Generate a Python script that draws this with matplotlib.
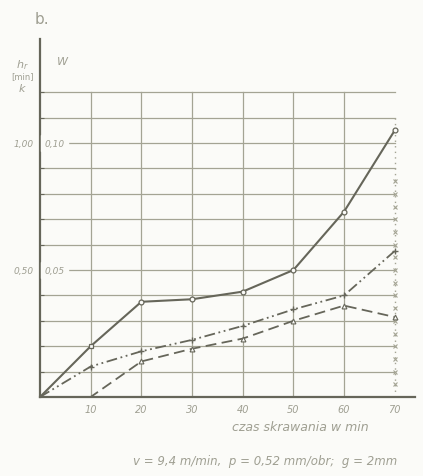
import matplotlib
matplotlib.use("Agg")
import matplotlib.pyplot as plt

# czas skrawania [min]
czas = [0, 10, 20, 30, 40, 50, 60, 70]
# hr/k, solid line with circles
hr_k = [0.0, 0.20, 0.375, 0.385, 0.415, 0.50, 0.73, 1.05]
# dash-dot-dot line with crosses
krzywa_2 = [0.0, 0.12, 0.18, 0.225, 0.28, 0.345, 0.40, 0.575]
# dashed line with triangles
krzywa_3 = [0.0, 0.0, 0.14, 0.19, 0.23, 0.30, 0.36, 0.315]
# column of x marks at t = 70
kolumna_x = [0.05, 0.10, 0.15, 0.20, 0.25, 0.30, 0.35, 0.40, 0.45, 0.50,
             0.55, 0.60, 0.65, 0.70, 0.75, 0.80, 0.85]
x_ticks = [10, 20, 30, 40, 50, 60, 70]
x_labels = ["10", "20", "30", "40", "50", "60", "70"]

LINE = "#66665a"
GRID = "#a4a494"
TEXT = "#9f9f92"
BG = "#fbfbf8"

fig = plt.figure(figsize=(4.23, 4.77), dpi=100, facecolor=BG)
ax = fig.add_axes([40 / 423, 79 / 477, 375 / 423, 358 / 477])
ax.set_facecolor(BG)
ax.set_xlim(0, 74)
ax.set_ylim(0, 1.41)

# grid
for k in range(1, 13):
    ax.plot([0, 70], [k * 0.1, k * 0.1], color=GRID, lw=0.9, zorder=1)
for t in x_ticks[:-1]:
    ax.plot([t, t], [0, 1.2], color=GRID, lw=0.9, zorder=1)
ax.plot([70, 70], [0, 1.1], color=GRID, lw=1.0, ls=(0, (1, 3)), zorder=1)
ax.plot([70] * len(kolumna_x), kolumna_x, ls="none", marker="x",
        ms=3, mew=0.8, color=GRID, zorder=2)

# curves
ax.plot(czas, hr_k, color=LINE, lw=1.5, marker="o", ms=3.5, mfc=BG,
        mew=0.9, zorder=4, markevery=[2, 3, 4, 5, 6, 7])
ax.plot(czas[1], hr_k[1], marker="s", ms=3.5, mfc=BG, mec=LINE, mew=0.9,
        zorder=5)
ax.plot(czas, krzywa_2, color=LINE, lw=1.3, ls=(0, (6, 2, 1, 2, 1, 2)),
        marker="+", ms=5, mew=1.0, zorder=3, markevery=[1, 2, 3, 4, 5, 6, 7])
ax.plot(czas, krzywa_3, color=LINE, lw=1.3, ls=(0, (6, 3)),
        marker="^", ms=3.5, mfc=BG, mew=0.8, zorder=3, clip_on=False,
        markevery=[2, 3, 4, 5, 6, 7])

for s in ["top", "right"]:
    ax.spines[s].set_visible(False)
ax.spines["left"].set_color(LINE)
ax.spines["left"].set_linewidth(1.6)
ax.spines["bottom"].set_color(LINE)
ax.spines["bottom"].set_linewidth(1.6)

ax.set_xticks(x_ticks)
ax.set_xticklabels(x_labels, fontsize=7, style="italic", color=TEXT)
ax.tick_params(axis="x", length=0, pad=5)
ax.set_yticks([k * 0.1 for k in range(1, 13)])
ax.set_yticklabels([])
ax.tick_params(axis="y", length=3, color=LINE, direction="in")

tk = dict(fontsize=6.5, style="italic", color=TEXT, va="center")
ax.text(-1.2, 1.0, "1,00", ha="right", **tk)
ax.text(0.9, 1.0, "0,10", ha="left", backgroundcolor=BG, **tk)
ax.text(-1.2, 0.5, "0,50", ha="right", **tk)
ax.text(0.9, 0.5, "0,05", ha="left", backgroundcolor=BG, **tk)

fig.text(35 / 423, 1 - 20 / 477, "b.", fontsize=11, color=TEXT, ha="left", va="center")
fig.text(57 / 423, 1 - 62 / 477, "W", fontsize=8, style="italic", color=TEXT,
         ha="left", va="center")
fig.text(22 / 423, 1 - 65 / 477, "h$_r$", fontsize=8, style="italic", color=TEXT,
         ha="center", va="center")
fig.text(22 / 423, 1 - 77 / 477, "[min]", fontsize=6, color=TEXT,
         ha="center", va="center")
fig.text(22 / 423, 1 - 89 / 477, "k", fontsize=8, style="italic", color=TEXT,
         ha="center", va="center")

fig.text(300 / 423, 1 - 428 / 477, "czas skrawania w min", fontsize=9,
         style="italic", color=TEXT, ha="center", va="center")
fig.text(265 / 423, 1 - 462 / 477, "v = 9,4 m/min,  p = 0,52 mm/obr;  g = 2mm",
         fontsize=8.5, style="italic", color=TEXT, ha="center", va="center")

fig.savefig("out.png", dpi=100, facecolor=fig.get_facecolor())
